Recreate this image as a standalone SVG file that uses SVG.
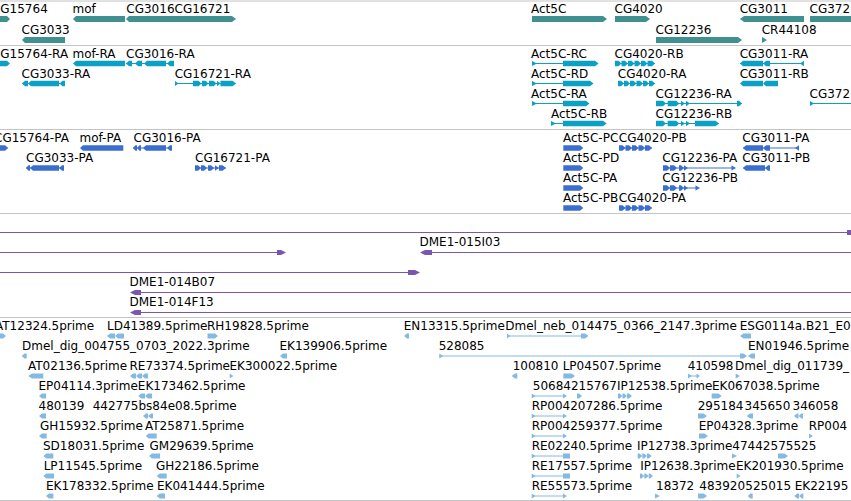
<svg xmlns="http://www.w3.org/2000/svg" width="851" height="501" viewBox="0 0 851 501">
<style>
.t{font-family:"DejaVu Sans",sans-serif;font-size:12px;fill:#000}
.sep{stroke:#c4c4c4;stroke-width:1}
.g{fill:#408f91}
.tr{fill:#0aa1c5}.trl{stroke:#0aa1c5;stroke-width:1}
.p{fill:#3a6fcf}.pl{stroke:#3a6fcf;stroke-width:1}
.c{fill:#7a56b0}.cl{stroke:#7a56b0;stroke-width:1}
.e{fill:#84bae2}.el{stroke:#84bae2;stroke-width:1}
</style>
<rect width="851" height="501" fill="#fff"/>
<g id="separators">
<line class="sep" x1="0" y1="1" x2="851" y2="1"/>
<line class="sep" x1="0" y1="45.5" x2="851" y2="45.5"/>
<line class="sep" x1="0" y1="129.5" x2="851" y2="129.5"/>
<line class="sep" x1="0" y1="213.5" x2="851" y2="213.5"/>
<line class="sep" x1="0" y1="317.5" x2="851" y2="317.5"/>
<line class="sep" x1="0" y1="500.5" x2="851" y2="500.5"/>
</g>

<!-- Track 1: genes -->
<g id="genes">
<g id="g-CG15764"><text class="t" x="0.3" y="13">G15764</text><polygon class="g" points="0,16 7,16 10,19 7,22 0,22"/></g>
<g id="g-mof"><text class="t" x="72.5" y="13">mof</text><polygon class="g" points="73,19 76,16 125,16 125,22 76,22"/></g>
<g id="g-CG3016"><text class="t" x="126.3" y="13">CG3016</text><polygon class="g" points="126,19 129,16 175,16 175,22 129,22"/></g>
<g id="g-CG16721"><text class="t" x="174.5" y="13">CG16721</text><polygon class="g" points="175,16 232,16 236,19 232,22 175,22"/></g>
<g id="g-CG3033"><text class="t" x="21.5" y="34">CG3033</text><polygon class="g" points="22,40 25,37 65,37 65,43 25,43"/></g>
<g id="g-Act5C"><text class="t" x="531" y="13">Act5C</text><polygon class="g" points="532,16 603,16 607,19 603,22 532,22"/></g>
<g id="g-CG4020"><text class="t" x="614.5" y="13">CG4020</text><polygon class="g" points="615,16 646,16 650,19 646,22 615,22"/></g>
<g id="g-CG3011"><text class="t" x="739.7" y="13">CG3011</text><polygon class="g" points="740,19 744,16 804,16 804,22 744,22"/></g>
<g id="g-CG372"><text class="t" x="809.5" y="13">CG372</text><rect class="g" x="810" y="16" width="41" height="6"/></g>
<g id="g-CG12236"><text class="t" x="655.5" y="34">CG12236</text><polygon class="g" points="656,37 738,37 742,40 738,43 656,43"/></g>
<g id="g-CR44108"><text class="t" x="761.7" y="34">CR44108</text><polygon class="g" points="762,37 767,40 762,43"/></g>
</g>

<!-- Track 2: transcripts -->
<g id="transcripts">
<g id="t-CG15764-RA"><text class="t" x="0.3" y="58.3">G15764-RA</text><polygon class="tr" points="0,60.7 7,60.7 10,63.5 7,66.3 0,66.3"/></g>
<g id="t-mof-RA"><text class="t" x="72.5" y="58.3">mof-RA</text><polygon class="tr" points="73,63.5 76,60.7 125,60.7 125,66.3 76,66.3"/></g>
<g id="t-CG3016-RA"><text class="t" x="126" y="58.3">CG3016-RA</text><line class="trl" x1="126" y1="63.5" x2="174" y2="63.5"/>
<polygon class="tr" points="126,63.5 129,60.7 132,60.7 132,66.3 129,66.3"/><polygon class="tr" points="135,63.5 138,60.7 142,60.7 142,66.3 138,66.3"/><polygon class="tr" points="144,63.5 147,60.7 166,60.7 166,66.3 147,66.3"/><polygon class="tr" points="167,63.5 170,60.7 174,60.7 174,66.3 170,66.3"/></g>
<g id="t-Act5C-RC"><text class="t" x="531" y="58.3">Act5C-RC</text><line class="trl" x1="532" y1="63.5" x2="563" y2="63.5"/><polygon class="tr" points="532,61 537,63.5 532,66"/><polygon class="tr" points="563,60.7 595,60.7 598.5,63.5 595,66.3 563,66.3"/></g>
<g id="t-CG4020-RB"><text class="t" x="614.5" y="58.3">CG4020-RB</text><line class="trl" x1="615" y1="63.5" x2="655" y2="63.5"/>
<polygon class="tr" points="615,60.7 618.5,60.7 621.5,63.5 618.5,66.3 615,66.3"/><polygon class="tr" points="621.5,60.7 625,60.7 628,63.5 625,66.3 621.5,66.3"/><polygon class="tr" points="628,60.7 631.5,60.7 634.5,63.5 631.5,66.3 628,66.3"/><polygon class="tr" points="634.5,60.7 638,60.7 641,63.5 638,66.3 634.5,66.3"/><polygon class="tr" points="641,60.7 644.5,60.7 647.5,63.5 644.5,66.3 641,66.3"/><polygon class="tr" points="647.5,60.7 652,60.7 655,63.5 652,66.3 647.5,66.3"/></g>
<g id="t-CG3011-RA"><text class="t" x="739.7" y="58.3">CG3011-RA</text><line class="trl" x1="740" y1="63.5" x2="804" y2="63.5"/><polygon class="tr" points="740,63.5 743,60.7 763,60.7 763,66.3 743,66.3"/><polygon class="tr" points="763,63.5 766,60.7 770,60.7 770,66.3 766,66.3"/><polygon class="tr" points="800,63.5 804,60.7 804,66.3"/></g>

<g id="t-CG3033-RA"><text class="t" x="21.5" y="78.3">CG3033-RA</text><line class="trl" x1="22" y1="83.5" x2="65" y2="83.5"/><polygon class="tr" points="22,83.5 25,80.7 28,80.7 28,86.3 25,86.3"/><polygon class="tr" points="28,83.5 31,80.7 59,80.7 59,86.3 31,86.3"/><polygon class="tr" points="59.5,83.5 62.5,80.7 65,80.7 65,86.3 62.5,86.3"/></g>
<g id="t-CG16721-RA"><text class="t" x="174.7" y="78.3">CG16721-RA</text><line class="trl" x1="175" y1="83.5" x2="236" y2="83.5"/><polygon class="tr" points="175,81 178.5,83.5 175,86"/>
<polygon class="tr" points="193,80.7 198.5,80.7 201.5,83.5 198.5,86.3 193,86.3"/><polygon class="tr" points="202,80.7 205.5,80.7 208.5,83.5 205.5,86.3 202,86.3"/><polygon class="tr" points="209,80.7 213.5,80.7 216.5,83.5 213.5,86.3 209,86.3"/><polygon class="tr" points="217,80.7 220.5,83.5 217,86.3"/><polygon class="tr" points="220.5,80.7 232.5,80.7 236,83.5 232.5,86.3 220.5,86.3"/></g>
<g id="t-Act5C-RD"><text class="t" x="531" y="78.3">Act5C-RD</text><line class="trl" x1="532" y1="83.5" x2="563" y2="83.5"/><polygon class="tr" points="532,81 537,83.5 532,86"/><polygon class="tr" points="563,80.7 590,80.7 593.5,83.5 590,86.3 563,86.3"/></g>
<g id="t-CG4020-RA"><text class="t" x="617.8" y="78.3">CG4020-RA</text><line class="trl" x1="618" y1="83.5" x2="655" y2="83.5"/>
<polygon class="tr" points="618,80.7 621,80.7 624,83.5 621,86.3 618,86.3"/><polygon class="tr" points="624,80.7 627,80.7 630,83.5 627,86.3 624,86.3"/><polygon class="tr" points="630,80.7 633.5,80.7 636.5,83.5 633.5,86.3 630,86.3"/><polygon class="tr" points="636.5,80.7 640,80.7 643,83.5 640,86.3 636.5,86.3"/><polygon class="tr" points="643,80.7 646,80.7 649,83.5 646,86.3 643,86.3"/><polygon class="tr" points="649,80.7 652,80.7 655,83.5 652,86.3 649,86.3"/></g>
<g id="t-CG3011-RB"><text class="t" x="739.7" y="78.3">CG3011-RB</text><polygon class="tr" points="740,83.5 743,80.7 763,80.7 763,86.3 743,86.3"/><polygon class="tr" points="763,83.5 766,80.7 778,80.7 778,86.3 766,86.3"/></g>

<g id="t-Act5C-RA"><text class="t" x="531" y="98.3">Act5C-RA</text><line class="trl" x1="532" y1="103.5" x2="563" y2="103.5"/><polygon class="tr" points="532,101 537,103.5 532,106"/><polygon class="tr" points="563,100.7 586,100.7 589.5,103.5 586,106.3 563,106.3"/></g>
<g id="t-CG12236-RA"><text class="t" x="655.5" y="98.3">CG12236-RA</text><line class="trl" x1="656" y1="103.5" x2="742" y2="103.5"/>
<polygon class="tr" points="656,100.7 663,100.7 666,103.5 663,106.3 656,106.3"/><polygon class="tr" points="667.7,100.7 676.3,100.7 679.3,103.5 676.3,106.3 667.7,106.3"/><polygon class="tr" points="681,100.7 685,103.5 681,106.3"/><polygon class="tr" points="686,100.7 690,103.5 686,106.3"/><polygon class="tr" points="737,100.7 739,100.7 742,103.5 739,106.3 737,106.3"/></g>
<g id="t-CG372"><text class="t" x="809.5" y="98.3">CG372</text><line class="trl" x1="810" y1="103.5" x2="851" y2="103.5"/><polygon class="tr" points="810,101 814,103.5 810,106"/></g>

<g id="t-Act5C-RB"><text class="t" x="551" y="118.3">Act5C-RB</text><line class="trl" x1="551" y1="123.5" x2="563" y2="123.5"/><polygon class="tr" points="551,121 556,123.5 551,126"/><polygon class="tr" points="563,120.7 603,120.7 606.7,123.5 603,126.3 563,126.3"/></g>
<g id="t-CG12236-RB"><text class="t" x="655.5" y="118.3">CG12236-RB</text><line class="trl" x1="656" y1="123.5" x2="719" y2="123.5"/>
<polygon class="tr" points="656,120.7 663,120.7 666,123.5 663,126.3 656,126.3"/><polygon class="tr" points="667.7,120.7 676.3,120.7 679.3,123.5 676.3,126.3 667.7,126.3"/><polygon class="tr" points="681,120.7 685,123.5 681,126.3"/><polygon class="tr" points="686,120.7 690,123.5 686,126.3"/><polygon class="tr" points="695,120.7 715.5,120.7 719,123.5 715.5,126.3 695,126.3"/></g>
</g>

<!-- Track 3: proteins -->
<g id="proteins">
<g id="p-CG15764-PA"><text class="t" x="-6" y="141.7">CG15764-PA</text><polygon class="p" points="0,145.2 5,145.2 8.3,148 5,150.8 0,150.8"/></g>
<g id="p-mof-PA"><text class="t" x="79.5" y="141.7">mof-PA</text><polygon class="p" points="80,148 83,145.2 123.3,145.2 123.3,150.8 83,150.8"/></g>
<g id="p-CG3016-PA"><text class="t" x="133.5" y="141.7">CG3016-PA</text><line class="pl" x1="133" y1="148" x2="172" y2="148"/><polygon class="p" points="133,148 135.5,145.2 137,145.2 137,150.8 135.5,150.8"/><polygon class="p" points="137,148 139.5,145.2 141,145.2 141,150.8 139.5,150.8"/><polygon class="p" points="143,148 146,145.2 166,145.2 166,150.8 146,150.8"/><polygon class="p" points="167,148 170,145.2 172,145.2 172,150.8 170,150.8"/></g>
<g id="p-Act5C-PC"><text class="t" x="563" y="141.7">Act5C-PC</text><polygon class="p" points="563.3,145.2 580,145.2 583.3,148 580,150.8 563.3,150.8"/></g>
<g id="p-CG4020-PB"><text class="t" x="618.8" y="141.7">CG4020-PB</text><line class="pl" x1="619" y1="148" x2="652" y2="148"/>
<polygon class="p" points="619,145.2 622.5,145.2 625.5,148 622.5,150.8 619,150.8"/><polygon class="p" points="625.5,145.2 629,145.2 632,148 629,150.8 625.5,150.8"/><polygon class="p" points="632,145.2 635.5,145.2 638.5,148 635.5,150.8 632,150.8"/><polygon class="p" points="638.5,145.2 642,145.2 645,148 642,150.8 638.5,150.8"/><polygon class="p" points="645,145.2 649,145.2 652,148 649,150.8 645,150.8"/></g>
<g id="p-CG3011-PA"><text class="t" x="742.3" y="141.7">CG3011-PA</text><line class="pl" x1="743" y1="148" x2="799" y2="148"/><polygon class="p" points="743,148 746,145.2 763,145.2 763,150.8 746,150.8"/><polygon class="p" points="763,148 766,145.2 770,145.2 770,150.8 766,150.8"/><polygon class="p" points="795,148 799,145.2 799,150.8"/></g>

<g id="p-CG3033-PA"><text class="t" x="26" y="161.7">CG3033-PA</text><line class="pl" x1="26" y1="168" x2="64" y2="168"/><polygon class="p" points="26,168 28.5,165.2 30,165.2 30,170.8 28.5,170.8"/><polygon class="p" points="30,168 33,165.2 59,165.2 59,170.8 33,170.8"/><polygon class="p" points="59,168 62,165.2 64,165.2 64,170.8 62,170.8"/></g>
<g id="p-CG16721-PA"><text class="t" x="195" y="161.7">CG16721-PA</text><line class="pl" x1="195" y1="168" x2="226" y2="168"/>
<polygon class="p" points="195,165.2 198,165.2 201,168 198,170.8 195,170.8"/><polygon class="p" points="201,165.2 204,165.2 207,168 204,170.8 201,170.8"/><polygon class="p" points="208,165.2 211,165.2 214,168 211,170.8 208,170.8"/><polygon class="p" points="215,165.2 219,168 215,170.8"/><polygon class="p" points="219,165.2 222.5,165.2 226,168 222.5,170.8 219,170.8"/></g>
<g id="p-Act5C-PD"><text class="t" x="563" y="161.7">Act5C-PD</text><polygon class="p" points="563.3,165.2 580,165.2 583.3,168 580,170.8 563.3,170.8"/></g>
<g id="p-CG12236-PA"><text class="t" x="662.3" y="161.7">CG12236-PA</text><line class="pl" x1="663" y1="168" x2="735.5" y2="168"/>
<polygon class="p" points="663,165.2 667,165.2 670,168 667,170.8 663,170.8"/><polygon class="p" points="670,165.2 674,165.2 677,168 674,170.8 670,170.8"/><polygon class="p" points="679,165.2 681,165.2 684,168 681,170.8 679,170.8"/><polygon class="p" points="684,165.2 688,168 684,170.8"/><polygon class="p" points="731.5,165.2 735.5,168 731.5,170.8"/></g>
<g id="p-CG3011-PB"><text class="t" x="742.3" y="161.7">CG3011-PB</text><line class="pl" x1="743" y1="168" x2="770" y2="168"/><polygon class="p" points="743,168 746,165.2 765,165.2 765,170.8 746,170.8"/><polygon class="p" points="765,168 768,165.2 770,165.2 770,170.8 768,170.8"/></g>

<g id="p-Act5C-PA"><text class="t" x="563" y="181.7">Act5C-PA</text><polygon class="p" points="563.3,185.2 580,185.2 583.3,188 580,190.8 563.3,190.8"/></g>
<g id="p-CG12236-PB"><text class="t" x="662.3" y="181.7">CG12236-PB</text><line class="pl" x1="663" y1="188" x2="699.5" y2="188"/>
<polygon class="p" points="663,185.2 667,185.2 670,188 667,190.8 663,190.8"/><polygon class="p" points="670,185.2 674,185.2 677,188 674,190.8 670,190.8"/><polygon class="p" points="679,185.2 681,185.2 684,188 681,190.8 679,190.8"/><polygon class="p" points="684,185.2 688,188 684,190.8"/><polygon class="p" points="695.5,185.2 699.5,188 695.5,190.8"/></g>

<g id="p-Act5C-PB"><text class="t" x="563" y="201.7">Act5C-PB</text><polygon class="p" points="563.3,205.2 580,205.2 583.3,208 580,210.8 563.3,210.8"/></g>
<g id="p-CG4020-PA"><text class="t" x="618.8" y="201.7">CG4020-PA</text><line class="pl" x1="619" y1="208" x2="652" y2="208"/>
<polygon class="p" points="619,205.2 622.5,205.2 625.5,208 622.5,210.8 619,210.8"/><polygon class="p" points="625.5,205.2 629,205.2 632,208 629,210.8 625.5,210.8"/><polygon class="p" points="632,205.2 635.5,205.2 638.5,208 635.5,210.8 632,210.8"/><polygon class="p" points="638.5,205.2 642,205.2 645,208 642,210.8 638.5,210.8"/><polygon class="p" points="645,205.2 649,205.2 652,208 649,210.8 645,210.8"/></g>
</g>

<!-- Track 4: clones -->
<g id="clones">
<g id="c-row1"><line class="cl" x1="0" y1="232.5" x2="848" y2="232.5"/><rect class="c" x="847" y="230" width="4" height="5"/></g>
<g id="c-row2a"><line class="cl" x1="0" y1="252.5" x2="280" y2="252.5"/><polygon class="c" points="277,250 281,250 286,252.5 281,255 277,255"/></g>
<g id="c-DME1-015I03"><text class="t" x="419.5" y="246">DME1-015I03</text><line class="cl" x1="428" y1="252.5" x2="851" y2="252.5"/><polygon class="c" points="420,252.5 425,250 432,250 432,255 425,255"/></g>
<g id="c-row3"><line class="cl" x1="0" y1="272.5" x2="412" y2="272.5"/><polygon class="c" points="408,270 415,270 420,272.5 415,275 408,275"/></g>
<g id="c-DME1-014B07"><text class="t" x="129.5" y="286">DME1-014B07</text><line class="cl" x1="138" y1="292.5" x2="851" y2="292.5"/><polygon class="c" points="130,292.5 135,290 141,290 141,295 135,295"/></g>
<g id="c-DME1-014F13"><text class="t" x="129.5" y="306">DME1-014F13</text><line class="cl" x1="138" y1="312.5" x2="851" y2="312.5"/><polygon class="c" points="130,312.5 135,310 141,310 141,315 135,315"/></g>
</g>

<!-- Track 5: ESTs -->
<g id="ests">
<!-- row 1 -->
<g id="e-AT12324"><text class="t" x="-5" y="330">AT12324.5prime</text><polygon class="e" points="0,333.5 3,333.5 6,336 3,338.5 0,338.5"/></g>
<g id="e-LD41389"><text class="t" x="107" y="330">LD41389.5prime</text><polygon class="e" points="107,336 110,333.5 115,333.5 115,338.5 110,338.5"/><polygon class="e" points="115,336 118,333.5 124,333.5 124,338.5 118,338.5"/></g>
<g id="e-RH19828"><text class="t" x="207" y="330">RH19828.5prime</text><polygon class="e" points="207.5,333.5 215,333.5 218,336 215,338.5 207.5,338.5"/></g>
<g id="e-EN13315"><text class="t" x="403.7" y="330">EN13315.5prime</text><polygon class="e" points="404,336 407,333.5 409,333.5 409,338.5 407,338.5"/></g>
<g id="e-Dmel_neb"><text class="t" x="505.3" y="330">Dmel_neb_014475_0366_2147.3prime</text><line class="el" x1="507" y1="336" x2="585" y2="336"/><polygon class="e" points="507,333.5 510.5,336 507,338.5"/><polygon class="e" points="581,333.5 585,333.5 588.5,336 585,338.5 581,338.5"/></g>
<g id="e-ESG0114a"><text class="t" x="739.7" y="330">ESG0114a.B21_E0</text><polygon class="e" points="740,336 743.5,333.5 751,333.5 751,338.5 743.5,338.5"/></g>
<!-- row 2 -->
<g id="e-Dmel_dig_004755"><text class="t" x="22" y="350">Dmel_dig_004755_0703_2022.3prime</text><polygon class="e" points="21.7,356 24.5,353.5 26.7,353.5 26.7,358.5 24.5,358.5"/></g>
<g id="e-EK139906"><text class="t" x="279.5" y="350">EK139906.5prime</text><polygon class="e" points="280,356 283,353.5 287,353.5 287,358.5 283,358.5"/></g>
<g id="e-528085"><text class="t" x="438.7" y="350">528085</text><line class="el" x1="439" y1="356" x2="742" y2="356"/><polygon class="e" points="439.3,353.5 443,356 439.3,358.5"/><polygon class="e" points="740,353.5 743.5,353.5 747,356 743.5,358.5 740,358.5"/></g>
<g id="e-EN01946"><text class="t" x="748" y="350">EN01946.5prime</text><polygon class="e" points="748,356 751.5,353.5 755,353.5 755,358.5 751.5,358.5"/></g>
<!-- row 3 -->
<g id="e-AT02136"><text class="t" x="28" y="370">AT02136.5prime</text><polygon class="e" points="28.3,376 32,373.5 43.3,373.5 43.3,378.5 32,378.5"/></g>
<g id="e-RE73374"><text class="t" x="129.5" y="370">RE73374.5prime</text><polygon class="e" points="130,376 133,373.5 136,373.5 136,378.5 133,378.5"/><polygon class="e" points="136,376 139,373.5 142,373.5 142,378.5 139,378.5"/><polygon class="e" points="142,376 145,373.5 148,373.5 148,378.5 145,378.5"/></g>
<g id="e-EK300022"><text class="t" x="229.5" y="370">EK300022.5prime</text><polygon class="e" points="229.7,373.5 233.3,376 229.7,378.5"/></g>
<g id="e-100810"><text class="t" x="512.7" y="370">100810</text><polygon class="e" points="511.7,376 515,373.5 517.3,373.5 517.3,378.5 515,378.5"/></g>
<g id="e-LP04507"><text class="t" x="562.7" y="370">LP04507.5prime</text><polygon class="e" points="563.3,373.5 571.5,373.5 575,376 571.5,378.5 563.3,378.5"/></g>
<g id="e-410598"><text class="t" x="687.7" y="370">410598</text><line class="el" x1="688" y1="376" x2="698" y2="376"/><polygon class="e" points="688,373.5 692,376 688,378.5"/><polygon class="e" points="696.5,373.5 700,376 696.5,378.5"/></g>
<g id="e-Dmel_dig_011739"><text class="t" x="735" y="370">Dmel_dig_011739_</text><polygon class="e" points="735.7,373.5 740,376 735.7,378.5"/></g>
<!-- row 4 -->
<g id="e-EP04114"><text class="t" x="38.5" y="390">EP04114.3prime</text><polygon class="e" points="39,396 42,393.5 46,393.5 46,398.5 42,398.5"/></g>
<g id="e-EK173462"><text class="t" x="137.8" y="390">EK173462.5prime</text><polygon class="e" points="138.3,396 141.3,393.5 145,393.5 145,398.5 141.3,398.5"/><polygon class="e" points="145,396 148,393.5 152,393.5 152,398.5 148,398.5"/></g>
<g id="e-506842"><text class="t" x="532.8" y="390">506842</text><line class="el" x1="532" y1="396" x2="565" y2="396"/><polygon class="e" points="531.7,393.5 535.5,396 531.7,398.5"/><polygon class="e" points="563,393.5 567,396 563,398.5"/></g>
<g id="e-15767"><text class="t" x="578.6" y="390">15767</text><polygon class="e" points="577,393.5 579,393.5 582,396 579,398.5 577,398.5"/></g>
<g id="e-IP12538"><text class="t" x="617" y="390">IP12538.5prime</text><polygon class="e" points="618,393.5 619.5,393.5 622.5,396 619.5,398.5 618,398.5"/><polygon class="e" points="622.5,393.5 624,393.5 627,396 624,398.5 622.5,398.5"/><polygon class="e" points="627,393.5 629,393.5 632,396 629,398.5 627,398.5"/></g>
<g id="e-EK067038"><text class="t" x="712" y="390">EK067038.5prime</text><polygon class="e" points="711.7,393.5 718.5,393.5 721.7,396 718.5,398.5 711.7,398.5"/></g>
<!-- row 5 -->
<g id="e-480139"><text class="t" x="38.5" y="410">480139</text><polygon class="e" points="39,416 42,413.5 46,413.5 46,418.5 42,418.5"/></g>
<g id="e-442775"><text class="t" x="92.7" y="410">442775</text></g>
<g id="e-bs84e08"><text class="t" x="138.5" y="410">bs84e08.5prime</text><polygon class="e" points="143,416 146,413.5 148,413.5 148,418.5 146,418.5"/><polygon class="e" points="148,416 151,413.5 153,413.5 153,418.5 151,418.5"/></g>
<g id="e-RP004207286"><text class="t" x="531.7" y="410">RP004207286.5prime</text><line class="el" x1="532" y1="416" x2="565" y2="416"/><polygon class="e" points="531.7,413.5 535.5,416 531.7,418.5"/><polygon class="e" points="563,413.5 567,416 563,418.5"/></g>
<g id="e-295184"><text class="t" x="697.7" y="410">295184</text><polygon class="e" points="698,413.5 703.5,413.5 707,416 703.5,418.5 698,418.5"/></g>
<g id="e-345650"><text class="t" x="744.5" y="410">345650</text><polygon class="e" points="746.7,416 750,413.5 753,413.5 753,418.5 750,418.5"/></g>
<g id="e-346058"><text class="t" x="792.5" y="410">346058</text><polygon class="e" points="794,416 797,413.5 798.5,413.5 798.5,418.5 797,418.5"/><polygon class="e" points="798.5,416 801.5,413.5 803,413.5 803,418.5 801.5,418.5"/></g>
<!-- row 6 -->
<g id="e-GH15932"><text class="t" x="40" y="430">GH15932.5prime</text><polygon class="e" points="39,436 42,433.5 46.7,433.5 46.7,438.5 42,438.5"/></g>
<g id="e-AT25871"><text class="t" x="145" y="430">AT25871.5prime</text><polygon class="e" points="145.7,436 148.7,433.5 156.7,433.5 156.7,438.5 148.7,438.5"/></g>
<g id="e-RP004259377"><text class="t" x="531.7" y="430">RP004259377.5prime</text><line class="el" x1="532" y1="436" x2="565" y2="436"/><polygon class="e" points="531.7,433.5 535.5,436 531.7,438.5"/><polygon class="e" points="563,433.5 567,436 563,438.5"/></g>
<g id="e-EP04328"><text class="t" x="698.7" y="430">EP04328.3prime</text><polygon class="e" points="699,433.5 704.5,433.5 708,436 704.5,438.5 699,438.5"/></g>
<g id="e-RP004"><text class="t" x="808.7" y="430">RP004</text><polygon class="e" points="809,433.5 813,436 809,438.5"/></g>
<!-- row 7 -->
<g id="e-SD18031"><text class="t" x="43" y="450">SD18031.5prime</text><polygon class="e" points="43.3,456 46.3,453.5 53.3,453.5 53.3,458.5 46.3,458.5"/></g>
<g id="e-GM29639"><text class="t" x="149.5" y="450">GM29639.5prime</text><polygon class="e" points="149,456 152,453.5 160,453.5 160,458.5 152,458.5"/></g>
<g id="e-RE02240"><text class="t" x="531.7" y="450">RE02240.5prime</text><line class="el" x1="532" y1="456" x2="564" y2="456"/><polygon class="e" points="531.7,453.5 535.5,456 531.7,458.5"/><rect class="e" x="563" y="453.5" width="7" height="5"/></g>
<g id="e-IP12738"><text class="t" x="637" y="450">IP12738.3prime</text><polygon class="e" points="637.7,453.5 639.3,453.5 642.3,456 639.3,458.5 637.7,458.5"/><polygon class="e" points="642.3,453.5 644,453.5 647,456 644,458.5 642.3,458.5"/><polygon class="e" points="647,453.5 648.7,453.5 651.7,456 648.7,458.5 647,458.5"/></g>
<g id="e-474425"><text class="t" x="732.3" y="450">474425</text><polygon class="e" points="732,453.5 737,456 732,458.5"/></g>
<g id="e-75525"><text class="t" x="778.2" y="450">75525</text><polygon class="e" points="778,453.5 784.5,453.5 788,456 784.5,458.5 778,458.5"/></g>
<!-- row 8 -->
<g id="e-LP11545"><text class="t" x="43.7" y="470">LP11545.5prime</text><polygon class="e" points="43.3,476 46.3,473.5 54,473.5 54,478.5 46.3,478.5"/></g>
<g id="e-GH22186"><text class="t" x="156" y="470">GH22186.5prime</text><polygon class="e" points="156.7,476 159.7,473.5 166.7,473.5 166.7,478.5 159.7,478.5"/></g>
<g id="e-RE17557"><text class="t" x="531.7" y="470">RE17557.5prime</text><line class="el" x1="532" y1="476" x2="564" y2="476"/><polygon class="e" points="531.7,473.5 535.5,476 531.7,478.5"/><rect class="e" x="563" y="473.5" width="7" height="5"/></g>
<g id="e-IP12638"><text class="t" x="640.3" y="470">IP12638.3prime</text><polygon class="e" points="640,473.5 641.3,473.5 644.3,476 641.3,478.5 640,478.5"/><polygon class="e" points="644.3,473.5 645.7,473.5 648.7,476 645.7,478.5 644.3,478.5"/><polygon class="e" points="648.7,473.5 650,473.5 653,476 650,478.5 648.7,478.5"/></g>
<g id="e-EK201930"><text class="t" x="736" y="470">EK201930.5prime</text><polygon class="e" points="736.7,473.5 740.5,476 736.7,478.5"/></g>
<!-- row 9 -->
<g id="e-EK178332"><text class="t" x="46" y="490">EK178332.5prime</text><polygon class="e" points="46,496 49,493.5 53.3,493.5 53.3,498.5 49,498.5"/></g>
<g id="e-EK041444"><text class="t" x="157" y="490">EK041444.5prime</text><polygon class="e" points="156.7,496 159.7,493.5 165,493.5 165,498.5 159.7,498.5"/></g>
<g id="e-RE55573"><text class="t" x="531.7" y="490">RE55573.5prime</text><line class="el" x1="532" y1="496" x2="565" y2="496"/><polygon class="e" points="531.7,493.5 535.5,496 531.7,498.5"/><polygon class="e" points="563,493.5 567,496 563,498.5"/></g>
<g id="e-18372"><text class="t" x="656" y="490">18372</text><polygon class="e" points="655,493.5 660,496 655,498.5"/></g>
<g id="e-483920"><text class="t" x="699.3" y="490">483920</text><polygon class="e" points="698,493.5 703.5,493.5 707,496 703.5,498.5 698,498.5"/></g>
<g id="e-525015"><text class="t" x="745.3" y="490">525015</text><polygon class="e" points="747.7,496 750.5,493.5 752.7,493.5 752.7,498.5 750.5,498.5"/></g>
<g id="e-EK22195"><text class="t" x="794.7" y="490">EK22195</text><polygon class="e" points="794.3,496 797.3,493.5 799,493.5 799,498.5 797.3,498.5"/><polygon class="e" points="799,496 802,493.5 803.3,493.5 803.3,498.5 802,498.5"/></g>
</g>
<g id="connectors"></g>
</svg>
